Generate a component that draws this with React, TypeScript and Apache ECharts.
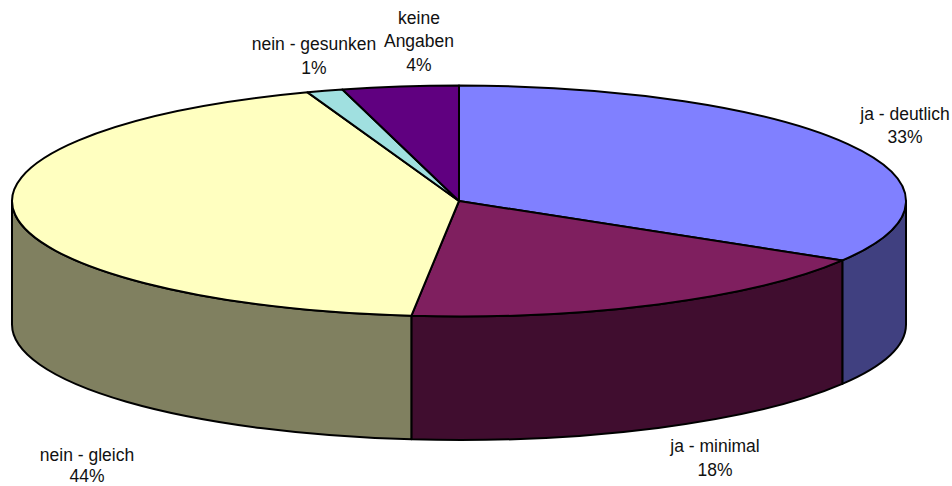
import React, { useEffect, useRef } from "react";
import * as echarts from "echarts";

const categories = ["ja - deutlich", "ja - minimal", "nein - gleich", "nein - gesunken", "keine\nAngaben"];
const sliceShares = [33.6, 18.1, 42.8, 1.3, 4.2];
const percentLabels = ["33%", "18%", "44%", "1%", "4%"];
const topColors = ["#8080FF", "#7F1F5F", "#FFFFC0", "#A0E0E0", "#600080"];
const sideColors = ["#404080", "#400D2F", "#808060", "#507070", "#300040"];
const labelCenters = [
  [905, 125.5],
  [715, 458],
  [87, 465.5],
  [314, 56],
  [419, 41],
];
const labelLineHeights = [23.5, 23.5, 21, 23.5, 23.5];

const CX = 459;
const CY = 201;
const RX = 447;
const RY = 115.5;
const DEPTH = 123.5;
const rad = (d: number) => (d * Math.PI) / 180;
const px = (t: number) => CX + RX * Math.sin(rad(t));
const py = (t: number) => CY - RY * Math.cos(rad(t));

function topPath(a: number, b: number) {
  const large = b - a > 180 ? 1 : 0;
  return `M${CX} ${CY}L${px(a)} ${py(a)}A${RX} ${RY} 0 ${large} 1 ${px(b)} ${py(b)}Z`;
}

function sidePath(a: number, b: number) {
  const s = Math.max(a, 90);
  const e = Math.min(b, 270);
  if (e <= s) return null;
  return (
    `M${px(s)} ${py(s)}A${RX} ${RY} 0 0 1 ${px(e)} ${py(e)}` +
    `L${px(e)} ${py(e) + DEPTH}A${RX} ${RY} 0 0 0 ${px(s)} ${py(s) + DEPTH}Z`
  );
}

export default function App() {
  const ref = useRef<HTMLDivElement>(null);
  useEffect(() => {
    document.body.style.margin = "0";
    const chart = echarts.init(ref.current!, undefined, { renderer: "svg" });
    const total = sliceShares.reduce((s, v) => s + v, 0);
    const starts: number[] = [];
    sliceShares.reduce((acc, v) => {
      starts.push(acc);
      return acc + v;
    }, 0);
    const stroke = { stroke: "#000", lineWidth: 2, lineJoin: "round" };
    chart.setOption({
      animation: false,
      backgroundColor: "#fff",
      series: [
        {
          type: "custom",
          coordinateSystem: "none",
          silent: true,
          data: sliceShares.map((v, i) => ({ value: [v, i], name: categories[i] })),
          renderItem: (_p: any, api: any) => {
            const value = api.value(0) as number;
            const i = api.value(1) as number;
            const a = (starts[i] / total) * 360;
            const b = a + (value / total) * 360;
            const side = sidePath(a, b);
            const children: any[] = [];
            if (side) {
              children.push({
                type: "path",
                shape: { pathData: side },
                style: { fill: sideColors[i], ...stroke },
              });
            }
            children.push({
              type: "path",
              shape: { pathData: topPath(a, b) },
              style: { fill: topColors[i], ...stroke },
            });
            return { type: "group", children };
          },
        },
      ],
      graphic: categories.map((c, i) => ({
        type: "text",
        x: labelCenters[i][0],
        y: labelCenters[i][1],
        style: {
          text: `${c}\n${percentLabels[i]}`,
          align: "center",
          verticalAlign: "middle",
          fontFamily: "Liberation Sans",
          fontSize: 17.5,
          lineHeight: labelLineHeights[i],
          fill: "#111",
        },
      })),
    });
    return () => chart.dispose();
  }, []);
  return <div ref={ref} style={{ width: 952, height: 486 }} />;
}
